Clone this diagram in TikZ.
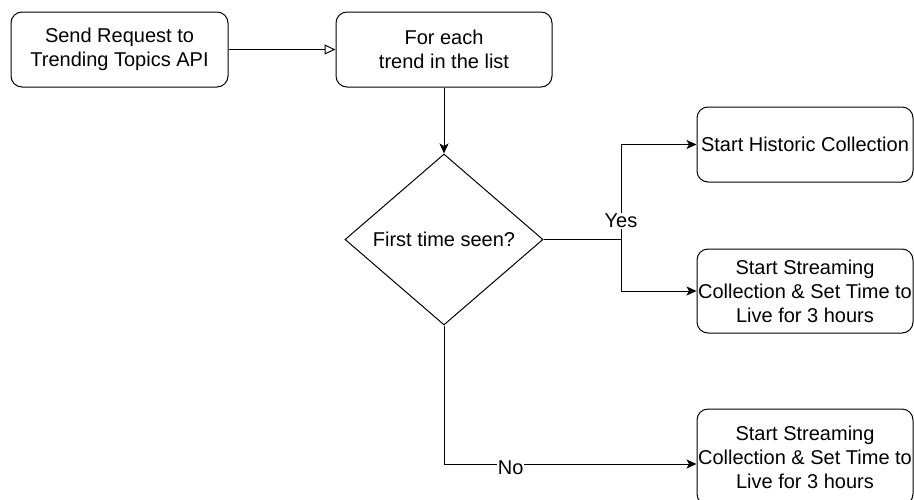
\documentclass[tikz,border=0pt]{standalone}
\usepackage{fontspec}
\setmainfont{Liberation Sans}
\usetikzlibrary{shapes.geometric,arrows.meta}
\begin{document}
\begin{tikzpicture}[x=1pt,y=-1pt,
  txt/.style={font=\fontsize{20}{24}\selectfont},
  box/.style={txt, draw, rounded corners=11pt, line width=1pt, align=center, inner sep=0pt},
  decision/.style={txt, draw, diamond, aspect=1.158, line width=1pt,
    minimum width=198pt, minimum height=171pt, inner sep=0pt},
  flow/.style={line width=1pt, -{Stealth[length=10pt,width=9pt,inset=2.5pt]}},
  openflow/.style={line width=1pt, -{Triangle[open,length=11pt,width=10pt]}},
  lbl/.style={txt, fill=white, inner sep=1pt}]
\useasboundingbox (0,0) rectangle (914,499);

% process boxes
\node[box, minimum width=217pt, minimum height=75pt] (send) at (119.5,49.5)
  {Send Request to\\Trending Topics API};
\node[box, minimum width=216pt, minimum height=75pt] (each) at (444,49.5)
  {For each\\trend in the list};
\node[decision] (seen) at (444,239.5) {First time seen?};
\node[box, minimum width=216pt, minimum height=75pt] (hist) at (805,144.5)
  {Start Historic Collection};
\node[box, minimum width=216pt, minimum height=84pt] (live1) at (805,291)
  {Start Streaming\\Collection \& Set Time to\\Live for 3 hours};
\node[box, minimum width=216pt, minimum height=96pt] (live2) at (805,457)
  {Start Streaming\\Collection \& Set Time to\\Live for 3 hours};

% connectors
\draw[openflow] (send) -- (each);
\draw[flow] (each) -- (seen);
\coordinate (fork) at (621,239.5);
\draw[line width=1pt] (seen.east) -- (fork);
\draw[flow] (fork) |- (hist.west);
\draw[flow] (fork) |- (live1.west);
\node[lbl] at (621,221) {Yes};
\draw[flow] (seen.south) |- ([yshift=-7pt]live2.west) node[pos=0.632, lbl, yshift=-4pt] {No};
\end{tikzpicture}
\end{document}
